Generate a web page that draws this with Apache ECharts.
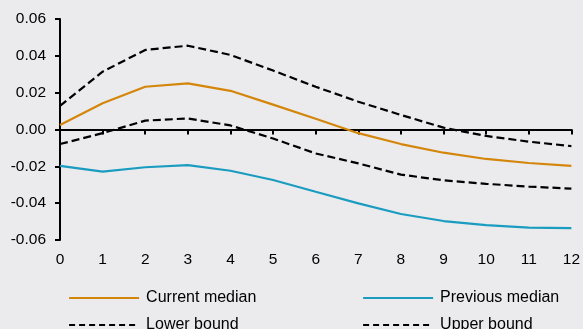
<!DOCTYPE html>
<html>
<head>
<meta charset="utf-8">
<script src="https://cdn.jsdelivr.net/npm/echarts@6/dist/echarts.min.js"></script>
<style>
html,body{margin:0;padding:0;background:#ebebee;}
#c{width:583px;height:329px;}
</style>
</head>
<body>
<div id="c"></div>
<script>
var categories = ['0','1','2','3','4','5','6','7','8','9','10','11','12'];
var currentMedian = [0.0025, 0.0142, 0.0232, 0.0250, 0.0210, 0.0135, 0.0058, -0.0020, -0.0079, -0.0126, -0.0160, -0.0182, -0.0198];
var previousMedian = [-0.0198, -0.0229, -0.0205, -0.0193, -0.0224, -0.0274, -0.0338, -0.0401, -0.0459, -0.0497, -0.0519, -0.0533, -0.0535];
var lowerBound = [-0.0079, -0.0020, 0.0048, 0.0060, 0.0022, -0.0049, -0.0130, -0.0184, -0.0245, -0.0276, -0.0295, -0.0310, -0.0321];
var upperBound = [0.0128, 0.0314, 0.0432, 0.0455, 0.0405, 0.0320, 0.0232, 0.0151, 0.0079, 0.0010, -0.0035, -0.0066, -0.0090];
var yTicks = {min: -0.06, max: 0.06, interval: 0.02};

var ORANGE = '#d4860b', BLUE = '#1a9cc0', BLACK = '#000000';
var FONT = 'Liberation Sans, Arial, sans-serif';

function line(name, data, color, dashed) {
  return {
    name: name, type: 'line', data: data, xAxisIndex: 0, yAxisIndex: 0,
    symbol: 'none', smooth: false, animation: false,
    lineStyle: {color: color, width: 2.2, type: dashed ? [8, 4] : 'solid'},
    itemStyle: {color: color}
  };
}

function legendAt(name, left, top, dashed) {
  var item = {
    name: name,
    itemStyle: {color: 'transparent', borderColor: 'transparent', borderWidth: 0, opacity: 0},
    lineStyle: {width: 2.2, type: dashed ? [6, 4] : 'solid'}
  };
  return {
    show: true, orient: 'horizontal', left: left, top: top, padding: 0,
    itemWidth: 70, itemHeight: 12, itemGap: 0,
    selectedMode: false,
    textStyle: {color: BLACK, fontSize: 16, fontFamily: FONT, padding: [0, 0, 0, 2]},
    data: [item]
  };
}

var chart = echarts.init(document.getElementById('c'), null, {renderer: 'canvas'});
chart.setOption({
  backgroundColor: '#ebebee',
  animation: false,
  grid: {left: 60, right: 6, top: 19, bottom: 89, containLabel: false},
  xAxis: [
    {
      type: 'category', data: categories, boundaryGap: false, position: 'bottom',
      axisLine: {show: false, onZero: false}, axisTick: {show: false},
      axisLabel: {color: BLACK, fontSize: 15.5, fontFamily: FONT, margin: 12, interval: 0},
      splitLine: {show: false}
    },
    {
      type: 'category', data: categories, boundaryGap: false, position: 'bottom',
      axisLine: {show: true, onZero: true, lineStyle: {color: BLACK, width: 2}},
      axisTick: {show: true, length: 5, interval: 0, lineStyle: {color: BLACK, width: 2}},
      axisLabel: {show: false}, splitLine: {show: false}
    }
  ],
  yAxis: {
    type: 'value', min: yTicks.min, max: yTicks.max, interval: yTicks.interval,
    axisLine: {show: true, lineStyle: {color: BLACK, width: 2}},
    axisTick: {show: true, length: 5, lineStyle: {color: BLACK, width: 2}},
    axisLabel: {color: BLACK, fontSize: 15.5, fontFamily: FONT, margin: 14,
      formatter: function (v) { return v.toFixed(2); }},
    splitLine: {show: false}
  },
  legend: [
    legendAt('Current median', 68, 290, false),
    legendAt('Lower bound', 68, 317, true),
    legendAt('Previous median', 362, 290, false),
    legendAt('Upper bound', 362, 317, true)
  ],
  series: [
    line('Current median', currentMedian, ORANGE, false),
    line('Previous median', previousMedian, BLUE, false),
    line('Lower bound', lowerBound, BLACK, true),
    line('Upper bound', upperBound, BLACK, true)
  ]
});
</script>
</body>
</html>
